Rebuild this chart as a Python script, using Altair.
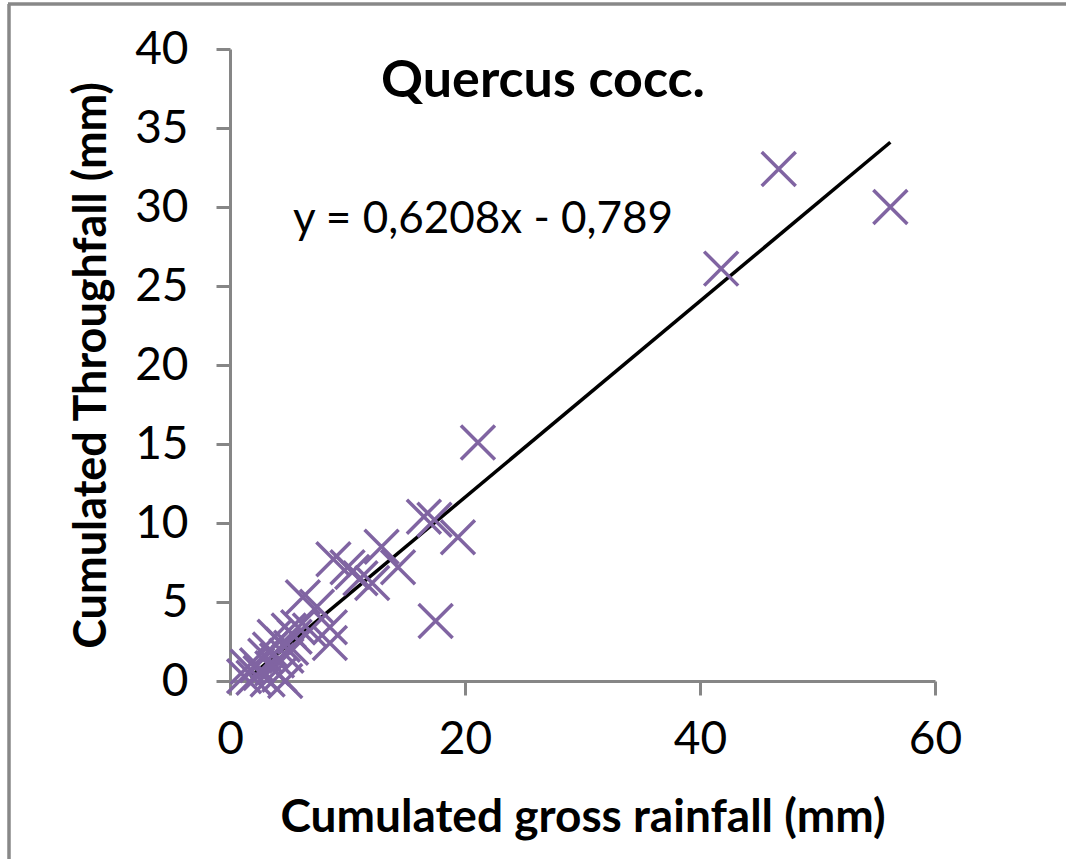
import altair as alt
import pandas as pd

# Data
rain = [1.2, 1.5, 2.0, 2.3, 2.6, 3.0, 3.2, 3.4, 3.6, 3.8, 4.0, 4.2, 4.5, 4.7, 4.8, 5.0, 5.2, 5.5, 5.8,
        6.2, 6.8, 7.4, 8.5, 8.5, 8.8, 10.0, 10.4, 11.1, 12.1, 12.9, 14.3,
        16.5, 17.4, 17.5, 19.4, 21.1, 41.8, 46.7, 56.2]
throughfall = [0.3, 0.9, 0.2, 1.0, 0.5, 1.6, 0.1, 2.0, 0.8, 2.8, 1.3, 0.4, 2.3, 0.0, 1.6, 3.2, 2.1, 2.8, 3.4,
               5.3, 3.2, 4.7, 3.4, 2.4, 7.7, 7.2, 6.9, 6.5, 6.2, 8.5, 7.2,
               10.4, 10.2, 3.8, 9.1, 15.1, 26.1, 32.4, 30.0]
trend_x = [1.7, 56.2]
slope = 0.6208
intercept = -0.789

title_text = "Quercus cocc."
eq_text = "y = 0,6208x - 0,789"

FONT = "Lato"
PURPLE = "#8064A2"
GRAY = "#868686"

pts = pd.DataFrame({"rain": rain, "tf": throughfall})
trend = pd.DataFrame({"rain": trend_x})

xs = alt.Scale(domain=[0, 60], nice=False, zero=True)
ys = alt.Scale(domain=[0, 40], nice=False, zero=True)

xaxis = alt.Axis(values=[0, 20, 40, 60], title="Cumulated gross rainfall (mm)", grid=False,
                 domainColor=GRAY, domainWidth=3, tickColor=GRAY, tickWidth=3, tickSize=14,
                 labelFont=FONT, labelFontSize=46, labelColor="black", labelPadding=22,
                 labelFlush=False, labelOverlap=False,
                 titleFont=FONT, titleFontSize=46, titleFontWeight="bold", titleColor="black",
                 titlePadding=33)
yaxis = alt.Axis(values=[0, 5, 10, 15, 20, 25, 30, 35, 40], title="Cumulated  Throughfall (mm)", grid=False,
                 domainColor=GRAY, domainWidth=3, tickColor=GRAY, tickWidth=3, tickSize=14,
                 labelFont=FONT, labelFontSize=46, labelColor="black", labelPadding=28,
                 labelFlush=False, labelOverlap=False,
                 titleFont=FONT, titleFontSize=45, titleFontWeight="bold", titleColor="black",
                 titlePadding=20)

points = alt.Chart(pts).mark_point(
    shape="M-1,-1L1,1M-1,1L1,-1", size=1156, filled=False, stroke=PURPLE,
    strokeWidth=3.5, opacity=1
).encode(
    x=alt.X("rain:Q", scale=xs, axis=xaxis),
    y=alt.Y("tf:Q", scale=ys, axis=yaxis),
)

line = alt.Chart(trend).transform_calculate(
    tf=f"{slope} * datum.rain + ({intercept})"
).mark_line(color="black", strokeWidth=3.5).encode(
    x=alt.X("rain:Q", scale=xs),
    y=alt.Y("tf:Q", scale=ys),
)

title = alt.Chart(pd.DataFrame({"t": [title_text]})).mark_text(
    font=FONT, fontSize=52, fontWeight="bold", color="black", align="center", baseline="alphabetic"
).encode(x=alt.value(313), y=alt.value(48), text="t:N")

eq = alt.Chart(pd.DataFrame({"t": [eq_text]})).mark_text(
    font=FONT, fontSize=44, color="black", align="left", baseline="alphabetic"
).encode(x=alt.value(63), y=alt.value(184), text="t:N")

border_top = alt.Chart(pd.DataFrame({"a": [0]})).mark_rule(color="#888888", strokeWidth=3.5).encode(
    x=alt.value(-222), x2=alt.value(840), y=alt.value(-45))
border_left = alt.Chart(pd.DataFrame({"a": [0]})).mark_rule(color="#888888", strokeWidth=3.5).encode(
    x=alt.value(-221), y=alt.value(-45), y2=alt.value(815))

chart = alt.layer(border_top, border_left, line, points, title, eq).properties(
    width=705, height=632,
    autosize=alt.AutoSizeParams(type="none"),
    padding={"left": 230, "top": 49, "right": 131, "bottom": 178},
    background="white",
).configure_view(stroke=None)

chart.save("out.html", embed_options={"renderer": "svg", "actions": False})
